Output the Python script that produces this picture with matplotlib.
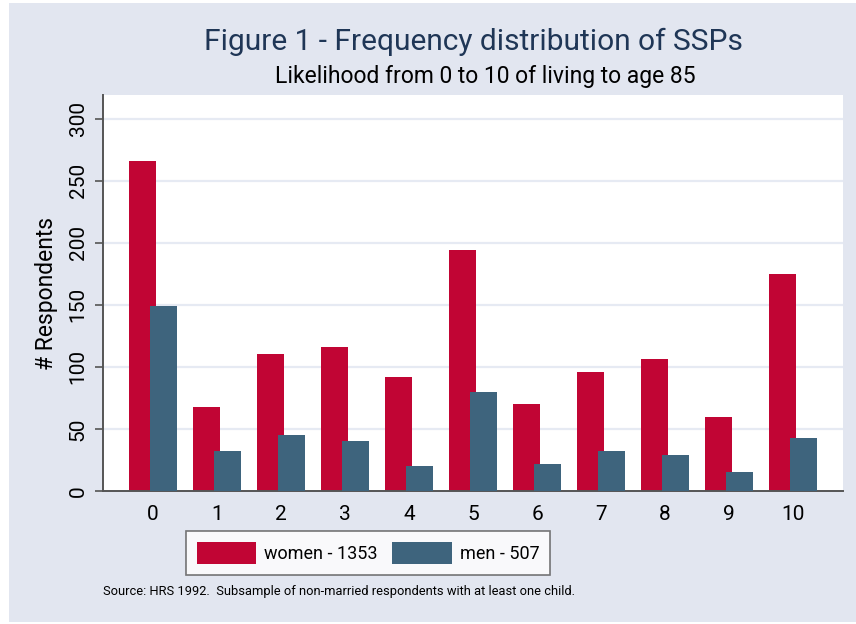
import matplotlib.pyplot as plt
import numpy as np
from matplotlib.patches import Rectangle

categories = ["0", "1", "2", "3", "4", "5", "6", "7", "8", "9", "10"]
women = [266, 68, 110, 116, 92, 194, 70, 96, 106, 60, 175]
men = [149, 32, 45, 40, 20, 80, 22, 32, 29, 15, 43]
yticks = [0, 50, 100, 150, 200, 250, 300]

RED = "#C10534"
BLUE = "#3E647D"
BG = "#E2E6F0"
GRID = "#E6EAF3"
TXT_FONT = ["Roboto", "DejaVu Sans"]

W, H = 856, 624
fig = plt.figure(figsize=(W / 100, H / 100), dpi=100, facecolor="white")
fig.patches.append(Rectangle((9 / W, 2 / H), (W - 9) / W, (H - 5) / H,
                             transform=fig.transFigure, facecolor=BG,
                             edgecolor="none", zorder=-10))

ax = fig.add_axes([103 / W, (H - 491) / H, 740 / W, 396 / H])
ax.set_facecolor("white")

x = np.arange(len(categories))
off, bw = 0.168, 0.42
ax.bar(x - off, women, width=bw, color=RED, label="women - 1353", zorder=2)
ax.bar(x + off, men, width=bw, color=BLUE, label="men - 507", zorder=3)

ax.set_xlim(-0.78, 10.78)
ax.set_ylim(0, 319)
ax.set_xticks(x)
ax.set_xticklabels(categories, fontsize=15, family=TXT_FONT)
ax.tick_params(axis="x", length=0, pad=10)
ax.set_yticks(yticks)
ax.set_yticklabels([str(t) for t in yticks], rotation=90, va="center",
                   fontsize=15, family=TXT_FONT)
ax.tick_params(axis="y", length=6, width=1.2, color="#555555", pad=5)
for t in yticks[1:]:
    ax.axhline(t, color=GRID, lw=1.6, zorder=1)

for s in ["top", "right"]:
    ax.spines[s].set_visible(False)
for s in ["left", "bottom"]:
    ax.spines[s].set_color("#555555")
    ax.spines[s].set_linewidth(1.4)

ax.set_ylabel("# Respondents", fontsize=16.5, family=TXT_FONT, labelpad=8)

fig.text(473 / W, 1 - 42 / H, "Figure 1 - Frequency distribution of SSPs",
         ha="center", va="center", fontsize=21.5, color="#1F3656", family=TXT_FONT)
fig.text(485 / W, 1 - 77 / H, "Likelihood from 0 to 10 of living to age 85",
         ha="center", va="center", fontsize=16.5, color="black", family=TXT_FONT)

leg = fig.legend(loc="center", bbox_to_anchor=(368 / W, 1 - 553 / H),
                 ncol=2, frameon=True, fancybox=False,
                 handlelength=3.3, handleheight=1.5, handletextpad=0.45,
                 columnspacing=0.8, borderpad=0.6,
                 prop={"family": TXT_FONT, "size": 13})
leg.get_frame().set_edgecolor("#555555")
leg.get_frame().set_linewidth(1.2)

fig.text(103 / W, 1 - 591 / H,
         "Source: HRS 1992.  Subsample of non-married respondents with at least one child.",
         ha="left", va="center", fontsize=9.3, family=TXT_FONT)

fig.savefig("out.png", dpi=100, facecolor=fig.get_facecolor())
